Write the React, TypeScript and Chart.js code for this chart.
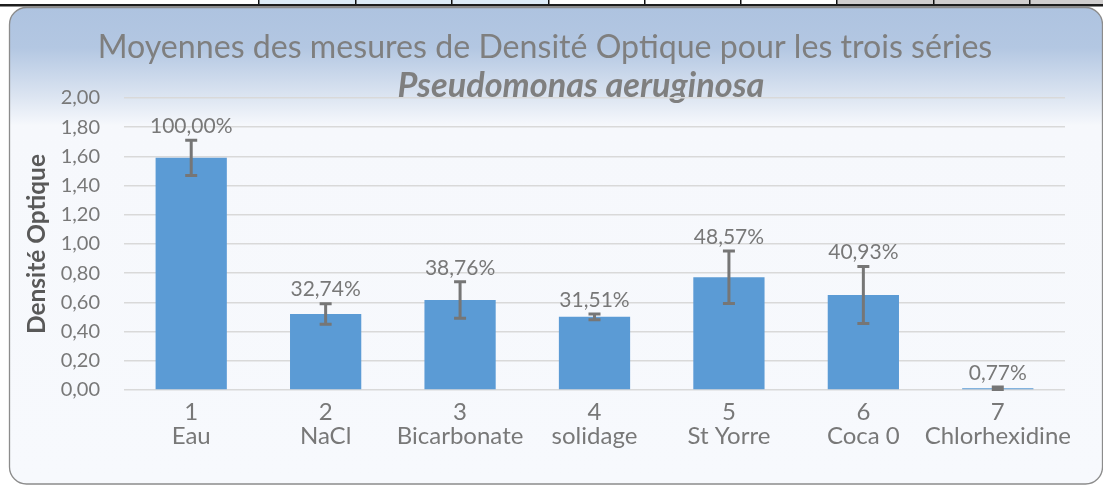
import React, { useEffect, useRef } from 'react';
import { Chart, registerables } from 'chart.js';

Chart.register(...registerables);

const categories = ['Eau', 'NaCl', 'Bicarbonate', 'solidage', 'St Yorre', 'Coca 0', 'Chlorhexidine'];
const categoryNumbers = ['1', '2', '3', '4', '5', '6', '7'];
const meanOD = [1.59, 0.521, 0.616, 0.501, 0.772, 0.651, 0.012];
const errorOD = [0.12, 0.07, 0.125, 0.02, 0.18, 0.195, 0.008];
const percentLabels = ['100,00%', '32,74%', '38,76%', '31,51%', '48,57%', '40,93%', '0,77%'];
const yMin = 0;
const yMax = 2;
const yStep = 0.2;

const titleText = 'Moyennes des mesures de Densité Optique pour les trois séries';
const subtitleText = 'Pseudomonas aeruginosa';
const yAxisTitle = 'Densité Optique';

const FONT = 'Lato, "Open Sans", "DejaVu Sans", sans-serif';
const GRAY = '#787878';

function fitFont(ctx: CanvasRenderingContext2D, text: string, prefix: string, target: number, base: number) {
  ctx.font = `${prefix} ${base}px ${FONT}`;
  const w = ctx.measureText(text).width;
  return base * target / w;
}

const bgPlugin = {
  id: 'bgPlugin',
  beforeDraw(chart: any) {
    const ctx: CanvasRenderingContext2D = chart.ctx;
    const W = chart.width;
    ctx.save();
    ctx.fillStyle = '#ffffff';
    ctx.fillRect(0, 0, W, chart.height);
    // spreadsheet strip above the chart
    ctx.fillStyle = '#ddebf7';
    ctx.fillRect(258, 0, 290, 5);
    ctx.fillStyle = '#d0cece';
    ctx.fillRect(837, 0, W - 837, 5);
    ctx.fillStyle = '#111';
    [258, 355, 451, 548, 644, 740, 836, 933, 1029].forEach((x) => ctx.fillRect(x, 0, 1.5, 5));
    ctx.fillStyle = '#1e1e1e';
    ctx.fillRect(0, 4, W, 2.5);

    // rounded chart box
    const x0 = 9.5, y0 = 7.5, x1 = 1102.5, y1 = 484, r = 17;
    ctx.beginPath();
    ctx.moveTo(x0 + r, y0);
    ctx.lineTo(x1 - r, y0);
    ctx.arcTo(x1, y0, x1, y0 + r, r);
    ctx.lineTo(x1, y1 - r);
    ctx.arcTo(x1, y1, x1 - r, y1, r);
    ctx.lineTo(x0 + r, y1);
    ctx.arcTo(x0, y1, x0, y1 - r, r);
    ctx.lineTo(x0, y0 + r);
    ctx.arcTo(x0, y0, x0 + r, y0, r);
    ctx.closePath();
    const g = ctx.createLinearGradient(0, y0, 0, y1);
    const h = y1 - y0;
    g.addColorStop(0, '#aec3e0');
    g.addColorStop(40 / h, '#b3c7e2');
    g.addColorStop(88 / h, '#dbe4f1');
    g.addColorStop(118 / h, '#f6f8fc');
    g.addColorStop(1, '#f7f9fd');
    ctx.fillStyle = g;
    ctx.fill();
    ctx.strokeStyle = '#8c8c8c';
    ctx.lineWidth = 1.3;
    ctx.stroke();

    // titles
    ctx.textAlign = 'center';
    ctx.textBaseline = 'middle';
    ctx.fillStyle = '#7f7f7f';
    let s = fitFont(ctx, titleText, '', 895, 27);
    ctx.font = `${s}px ${FONT}`;
    ctx.fillText(titleText, 545, 48);
    s = fitFont(ctx, subtitleText, 'italic bold', 367, 25);
    ctx.font = `italic bold ${s}px ${FONT}`;
    ctx.fillText(subtitleText, 581, 86);

    // y axis title
    const ca = chart.chartArea;
    ctx.save();
    ctx.translate(37, (ca.top + ca.bottom) / 2);
    ctx.rotate(-Math.PI / 2);
    ctx.fillStyle = '#595959';
    s = fitFont(ctx, yAxisTitle, 'bold', 180, 20);
    ctx.font = `bold ${s}px ${FONT}`;
    ctx.fillText(yAxisTitle, 0, 0);
    ctx.restore();
    ctx.restore();
  },
};

const overlayPlugin = {
  id: 'overlayPlugin',
  afterDatasetsDraw(chart: any) {
    const ctx: CanvasRenderingContext2D = chart.ctx;
    const meta = chart.getDatasetMeta(0);
    const yScale = chart.scales.y;
    ctx.save();
    // percentage labels, placed above the error bar top
    ctx.font = `21px ${FONT}`;
    ctx.fillStyle = GRAY;
    ctx.textAlign = 'center';
    ctx.textBaseline = 'middle';
    meta.data.forEach((bar: any, i: number) => {
      const yt = yScale.getPixelForValue(meanOD[i] + errorOD[i]);
      ctx.fillText(percentLabels[i], bar.x, Math.min(yt, bar.y) - 14);
    });
    // error bars
    ctx.strokeStyle = '#767676';
    ctx.lineWidth = 3;
    meta.data.forEach((bar: any, i: number) => {
      const yt = yScale.getPixelForValue(meanOD[i] + errorOD[i]);
      const yb = yScale.getPixelForValue(Math.max(0, meanOD[i] - errorOD[i]));
      const x = bar.x;
      ctx.beginPath();
      ctx.moveTo(x, yt);
      ctx.lineTo(x, yb);
      ctx.moveTo(x - 6, yt);
      ctx.lineTo(x + 6, yt);
      ctx.moveTo(x - 6, yb);
      ctx.lineTo(x + 6, yb);
      ctx.stroke();
    });
    ctx.restore();
  },
};

export default function App() {
  const ref = useRef<HTMLCanvasElement | null>(null);
  useEffect(() => {
    document.body.style.margin = '0';
    const canvas = ref.current;
    if (!canvas) return;
    const chart = new Chart(canvas, {
      type: 'bar',
      data: {
        labels: categories.map((c, i) => [categoryNumbers[i], c]),
        datasets: [
          {
            data: meanOD,
            backgroundColor: '#5b9bd5',
            borderWidth: 0,
            categoryPercentage: 1,
            barPercentage: 0.53,
          },
        ],
      },
      options: {
        responsive: false,
        animation: false,
        layout: { padding: { top: 98, right: 38, left: 0, bottom: 0 } },
        plugins: {
          legend: { display: false },
          tooltip: { enabled: false },
          title: { display: false },
        },
        scales: {
          x: {
            grid: { display: false, drawTicks: false },
            border: { display: false },
            ticks: {
              color: GRAY,
              font: { family: FONT, size: 24, lineHeight: 0.98 },
              padding: 11,
              maxRotation: 0,
              autoSkip: false,
            },
            afterFit: (s: any) => {
              s.height = 95;
            },
          },
          y: {
            min: yMin,
            max: yMax,
            ticks: {
              stepSize: yStep,
              color: GRAY,
              font: { family: FONT, size: 20 },
              padding: 24,
              callback: (v: any) => Number(v).toFixed(2).replace('.', ','),
            },
            grid: { color: '#d9d9d9', lineWidth: 1.5, drawTicks: false },
            border: { display: false },
            afterFit: (s: any) => {
              s.width = 124;
            },
          },
        },
      } as any,
      plugins: [bgPlugin, overlayPlugin],
    });
    return () => chart.destroy();
  }, []);
  return <canvas ref={ref} width={1103} height={485} style={{ display: 'block' }} />;
}
